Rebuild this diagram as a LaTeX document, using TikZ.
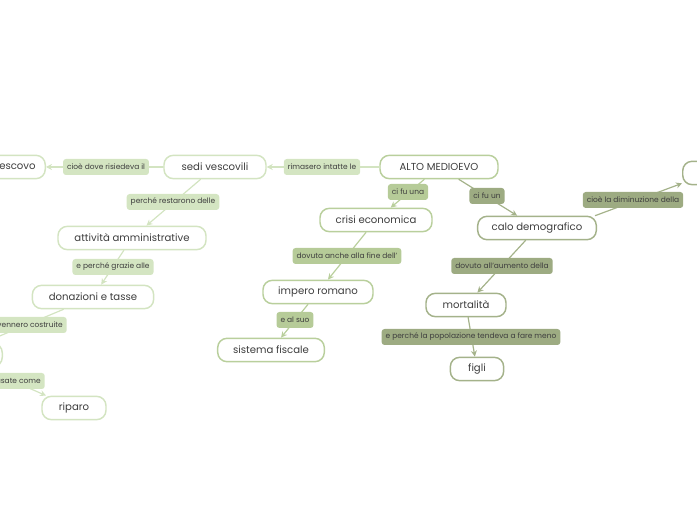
\documentclass[tikz,border=0pt]{standalone}
\usepackage{fontspec}
\setmainfont{Poppins}
\usetikzlibrary{arrows.meta,positioning,calc}

\definecolor{testo}{HTML}{3E3E3E}
\definecolor{bordoL}{HTML}{D3E4C1}
\definecolor{bordoM}{HTML}{B9CF9C}
\definecolor{bordoD}{HTML}{A4B28A}
\definecolor{tagL}{HTML}{D4E5C2}
\definecolor{tagM}{HTML}{B6CB98}
\definecolor{tagD}{HTML}{9DAB82}

\tikzset{
  idea/.style={draw,line width=1.1pt,rounded corners=7pt,fill=white,
    minimum height=17.5pt,inner xsep=5pt,text=testo,
    font=\fontsize{7.6}{9}\selectfont},
  tag/.style={rounded corners=2.2pt,inner xsep=3pt,inner ysep=0pt,
    minimum height=12pt,text=testo,font=\fontsize{5.6}{6}\selectfont},
  link/.style={line width=0.9pt,-{Stealth[length=4.5pt,width=4.5pt]}},
}

\begin{document}
\begin{tikzpicture}[x=0.75pt,y=-0.75pt,line cap=round]
\useasboundingbox (0,0) rectangle (697,520);
% central topic
\node[idea,draw=bordoM,minimum width=88.5pt] (alto) at (439,167) {ALTO MEDIOEVO};
% left branch
\node[idea,draw=bordoL,minimum width=76.5pt] (sedi) at (215,167) {sedi vescovili};
\node[idea,draw=bordoL,minimum width=46pt,anchor=east] (vescovo) at (46,167) {vescovo};
\node[idea,draw=bordoL,minimum width=111pt] (att) at (132,238) {attività amministrative};
\node[idea,draw=bordoL,minimum width=91pt] (don) at (93,297) {donazioni e tasse};
\node[idea,draw=bordoL,minimum width=72pt,anchor=east] (nascosto) at (3,355) {};
\node[idea,draw=bordoL,minimum width=48pt] (riparo) at (74,408) {riparo};
% middle branch
\node[idea,draw=bordoM,minimum width=84pt] (crisi) at (376,220) {crisi economica};
\node[idea,draw=bordoM,minimum width=82.5pt] (impero) at (318,292) {impero romano};
\node[idea,draw=bordoM,minimum width=80pt] (sistema) at (271,350) {sistema fiscale};
% right branch
\node[idea,draw=bordoD,minimum width=89pt] (calo) at (537,228) {calo demografico};
\node[idea,draw=bordoD,minimum width=72pt,anchor=west] (dim) at (682,173) {};
\node[idea,draw=bordoD,minimum width=60pt] (mort) at (466,305) {mortalità};
\node[idea,draw=bordoD,minimum width=40pt] (figli) at (477,369) {figli};
% connectors
\draw[link,bordoL] (alto) -- (sedi);
\draw[link,bordoL] (sedi) -- (vescovo);
\draw[link,bordoL] (sedi) -- (att);
\draw[link,bordoL] (att) -- (don);
\draw[link,bordoL] (don) -- (nascosto);
\draw[link,bordoL] (nascosto) -- (riparo);
\draw[link,bordoM] (alto) -- (crisi);
\draw[link,bordoM] (crisi) -- (impero);
\draw[link,bordoM] (impero) -- (sistema);
\draw[link,bordoD] (alto) -- (calo);
\draw[link,bordoD] (calo.12) -- (dim.192);
\draw[link,bordoD] (calo) -- (mort);
\draw[link,bordoD] (mort) -- (figli);
% connector labels
\node[tag,fill=tagL] (l1) at (322,167) {rimasero intatte le};
\node[tag,fill=tagL] (l2) at (106,167) {cioè dove risiedeva il};
\node[tag,fill=tagL] (l3) at (173,202) {perché restarono delle};
\node[tag,fill=tagL] (l4) at (113,267) {e perché grazie alle};
\node[tag,fill=tagL,anchor=east] (l5) at (67,325) {vennero costruite};
\node[tag,fill=tagL,anchor=east] (l6) at (45,381) {usate come};
\node[tag,fill=tagM] (l7) at (408,192) {ci fu una};
\node[tag,fill=tagM] (l8) at (347,256) {dovuta anche alla fine dell'};
\node[tag,fill=tagM] (l9) at (295,320) {e al suo};
\node[tag,fill=tagD] (l10) at (487,196) {ci fu un};
\node[tag,fill=tagD] (l11) at (633,200) {cioè la diminuzione della};
\node[tag,fill=tagD] (l12) at (502,266) {dovuto all'aumento della};
\node[tag,fill=tagD] (l13) at (471,337) {e perché la popolazione tendeva a fare meno};
\end{tikzpicture}
\end{document}
